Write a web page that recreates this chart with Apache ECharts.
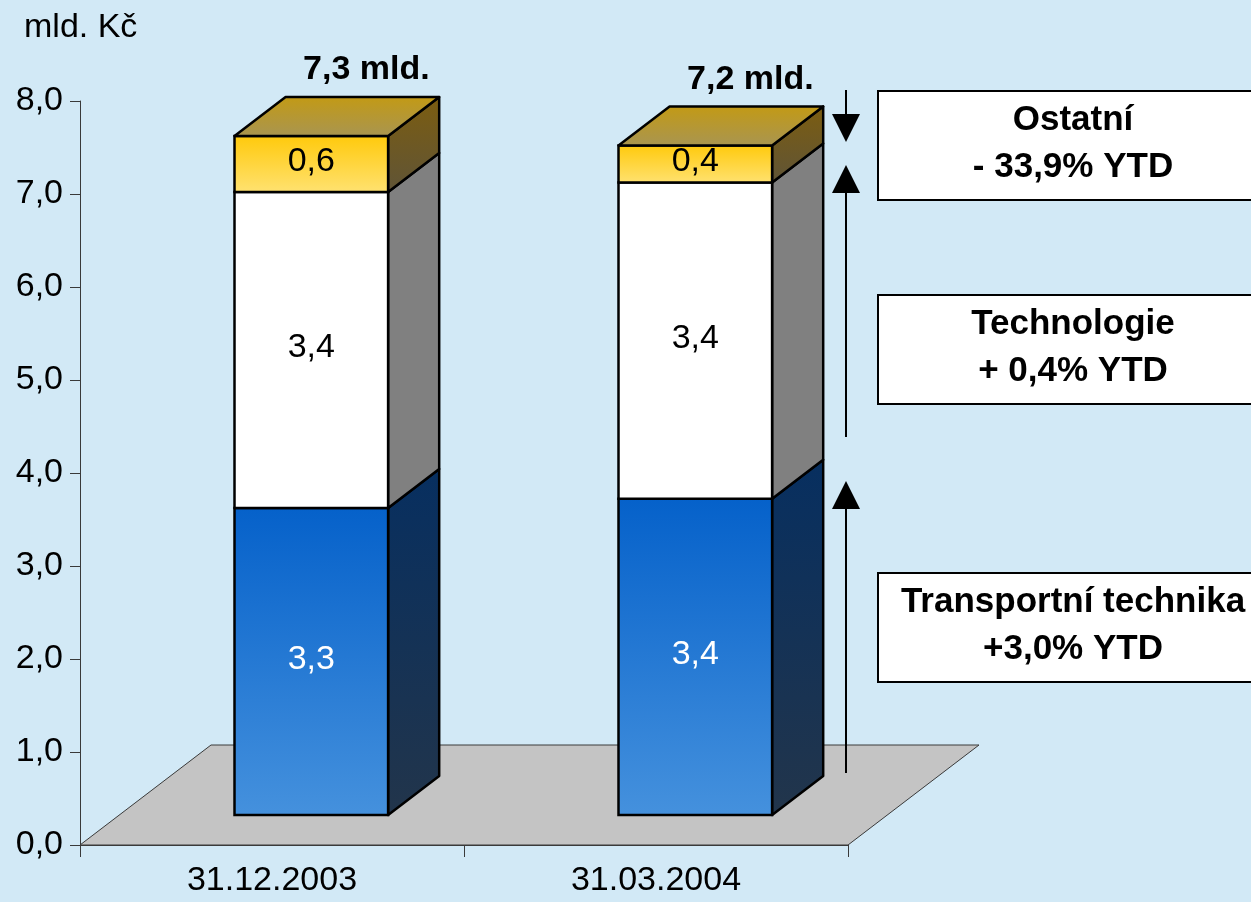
<!DOCTYPE html>
<html>
<head>
<meta charset="utf-8">
<title>mld. Kč</title>
<script src="https://cdn.jsdelivr.net/npm/echarts@6/dist/echarts.min.js"></script>
<style>
  html, body { margin: 0; padding: 0; background: #d2e9f6; }
  #chart { width: 1251px; height: 902px; }
</style>
</head>
<body>
<div id="chart"></div>
<script>
// ---- data ----
const categories = ['31.12.2003', '31.03.2004'];
const transport = [3.3, 3.4];     // Transportní technika
const technologie = [3.4, 3.4];   // Technologie
const ostatni = [0.6, 0.4];       // Ostatní
const unitLabel = 'mld. Kč';
const totalSuffix = ' mld.';
const noteLines = [
  ['Ostatní', '- 33,9% YTD'],
  ['Technologie', '+ 0,4% YTD'],
  ['Transportní technika', '+3,0% YTD']
];

// ---- look ----
const FONT = '"Liberation Sans", Arial, sans-serif';
const FLOOR_DX = 131, FLOOR_DY = -100;   // projected depth of the floor
const FRONT_F = 0.30, BACK_F = 0.69;     // bar depth inside the floor
const BAR_RATIO = 0.40;                  // bar width / category width
const EDGE = 2.5;                        // bar outline width

const lg = (a, b) => new echarts.graphic.LinearGradient(0, 0, 0, 1, [
  { offset: 0, color: a }, { offset: 1, color: b }
]);
const SEGMENT_STYLE = [
  { front: lg('#0561ca', '#4591dd'), side: lg('#072f60', '#22354b'), top: '#2a6ab0', label: '#ffffff' },
  { front: '#ffffff', side: '#808080', top: '#d8d8d8', label: '#000000' },
  { front: lg('#ffc90a', '#ffe272'), side: lg('#7c5d10', '#5f5437'), top: lg('#c39a14', '#a89552'), label: '#000000' }
];

const fmt = v => v.toFixed(1).replace('.', ',');

function renderFloor(params, api) {
  const catW = api.size([1, 0])[0];
  const c0 = api.coord([0, 0]);
  const xL = c0[0] - catW / 2;
  const xR = xL + catW * categories.length;
  const y = c0[1];
  return {
    type: 'polygon',
    shape: { points: [[xL, y], [xL + FLOOR_DX, y + FLOOR_DY], [xR + FLOOR_DX, y + FLOOR_DY], [xR, y]] },
    style: { fill: '#c4c4c4', stroke: '#3a3a3a', lineWidth: 1 }
  };
}

function renderBars(params, api) {
  const idx = api.value(0);
  const vals = [api.value(1), api.value(2), api.value(3)];
  const catW = api.size([1, 0])[0];
  const halfW = catW * BAR_RATIO / 2;
  const fx = FLOOR_DX * FRONT_F, fy = FLOOR_DY * FRONT_F;
  const bx = FLOOR_DX * (BACK_F - FRONT_F), by = FLOOR_DY * (BACK_F - FRONT_F);
  const children = [];
  const labels = [];
  let cum = 0;
  vals.forEach((v, s) => {
    const p0 = api.coord([idx, cum]);
    const p1 = api.coord([idx, cum + v]);
    cum += v;
    const xL = p0[0] + fx - halfW, xR = p0[0] + fx + halfW;
    const yB = p0[1] + fy, yT = p1[1] + fy;
    const st = SEGMENT_STYLE[s];
    children.push({
      type: 'polygon',
      shape: { points: [[xR, yT], [xR + bx, yT + by], [xR + bx, yB + by], [xR, yB]] },
      style: { fill: st.side, stroke: '#000', lineWidth: EDGE, lineJoin: 'round' }
    });
    children.push({
      type: 'rect',
      shape: { x: xL, y: yT, width: xR - xL, height: yB - yT },
      style: { fill: st.front, stroke: '#000', lineWidth: EDGE }
    });
    labels.push({
      type: 'text',
      style: {
        text: fmt(v), x: (xL + xR) / 2, y: (yT + yB) / 2 - 2,
        align: 'center', verticalAlign: 'middle',
        fill: st.label, fontSize: 34, fontFamily: FONT
      }
    });
    if (s === vals.length - 1) {
      children.push({
        type: 'polygon',
        shape: { points: [[xL, yT], [xR, yT], [xR + bx, yT + by], [xL + bx, yT + by]] },
        style: { fill: st.top, stroke: '#000', lineWidth: EDGE, lineJoin: 'round' }
      });
      labels.push({
        type: 'text',
        style: {
          text: fmt(cum) + totalSuffix,
          x: (xL + xR) / 2 + bx + 4, y: yT + by - 27,
          align: 'center', verticalAlign: 'middle',
          fill: '#000', fontSize: 34, fontWeight: 'bold', fontFamily: FONT
        }
      });
    }
  });
  return { type: 'group', children: children.concat(labels) };
}

// annotation boxes and arrows on the right
const BOX_X = 878, BOX_W = 400, TEXT_X = 1073;
const boxTops = [91, 295, 573];
const graphics = [];
boxTops.forEach((top, i) => {
  graphics.push({
    type: 'rect', z: 10,
    shape: { x: BOX_X, y: top, width: BOX_W, height: 109 },
    style: { fill: '#ffffff', stroke: '#000', lineWidth: 2 }
  });
  noteLines[i].forEach((t, k) => {
    graphics.push({
      type: 'text', z: 11,
      style: {
        text: t, x: TEXT_X, y: top + 29 + k * 47,
        align: 'center', verticalAlign: 'middle',
        fill: '#000', fontSize: 35, fontWeight: 'bold', fontFamily: FONT
      }
    });
  });
});
const ARROW_X = 846;
function arrow(y0, tip, dir) {
  const base = tip - dir * 28;
  graphics.push({
    type: 'line', z: 10,
    shape: { x1: ARROW_X, y1: y0, x2: ARROW_X, y2: base },
    style: { stroke: '#000', lineWidth: 2 }
  });
  graphics.push({
    type: 'polygon', z: 10,
    shape: { points: [[ARROW_X - 14, base], [ARROW_X + 14, base], [ARROW_X, tip]] },
    style: { fill: '#000' }
  });
}
arrow(90, 142, 1);
arrow(437, 165, -1);
arrow(773, 481, -1);

const chart = echarts.init(document.getElementById('chart'), null, { renderer: 'canvas' });
chart.setOption({
  backgroundColor: '#d2e9f6',
  animation: false,
  title: {
    text: unitLabel, left: 19, top: 6,
    textStyle: { fontSize: 34, fontWeight: 'normal', color: '#000', fontFamily: FONT }
  },
  grid: { left: 80, right: 403, top: 101, bottom: 57, containLabel: false, outerBoundsMode: 'none' },
  xAxis: {
    type: 'category',
    data: categories,
    boundaryGap: true,
    axisLine: { show: true, lineStyle: { color: '#3a3a3a', width: 1 } },
    axisTick: { show: true, length: 12, alignWithLabel: false, lineStyle: { color: '#3a3a3a' } },
    axisLabel: { fontSize: 34, color: '#000', margin: 19, fontFamily: FONT },
    splitLine: { show: false },
    z: 3
  },
  yAxis: {
    type: 'value',
    min: 0, max: 8, interval: 1,
    axisLine: { show: true, lineStyle: { color: '#3a3a3a', width: 1 } },
    axisTick: { show: true, length: 10, lineStyle: { color: '#3a3a3a' } },
    axisLabel: { fontSize: 34, color: '#000', margin: 17, fontFamily: FONT, formatter: fmt },
    splitLine: { show: false }
  },
  series: [
    {
      type: 'custom', name: 'floor', silent: true, z: 1,
      renderItem: renderFloor,
      data: [[0, 0]],
      encode: { x: 0, y: 1 }
    },
    {
      type: 'custom', name: 'bars', z: 5,
      renderItem: renderBars,
      data: categories.map((c, i) => [i, transport[i], technologie[i], ostatni[i]]),
      encode: { x: 0, y: [1, 2, 3] }
    }
  ],
  graphic: graphics
});
</script>
</body>
</html>
